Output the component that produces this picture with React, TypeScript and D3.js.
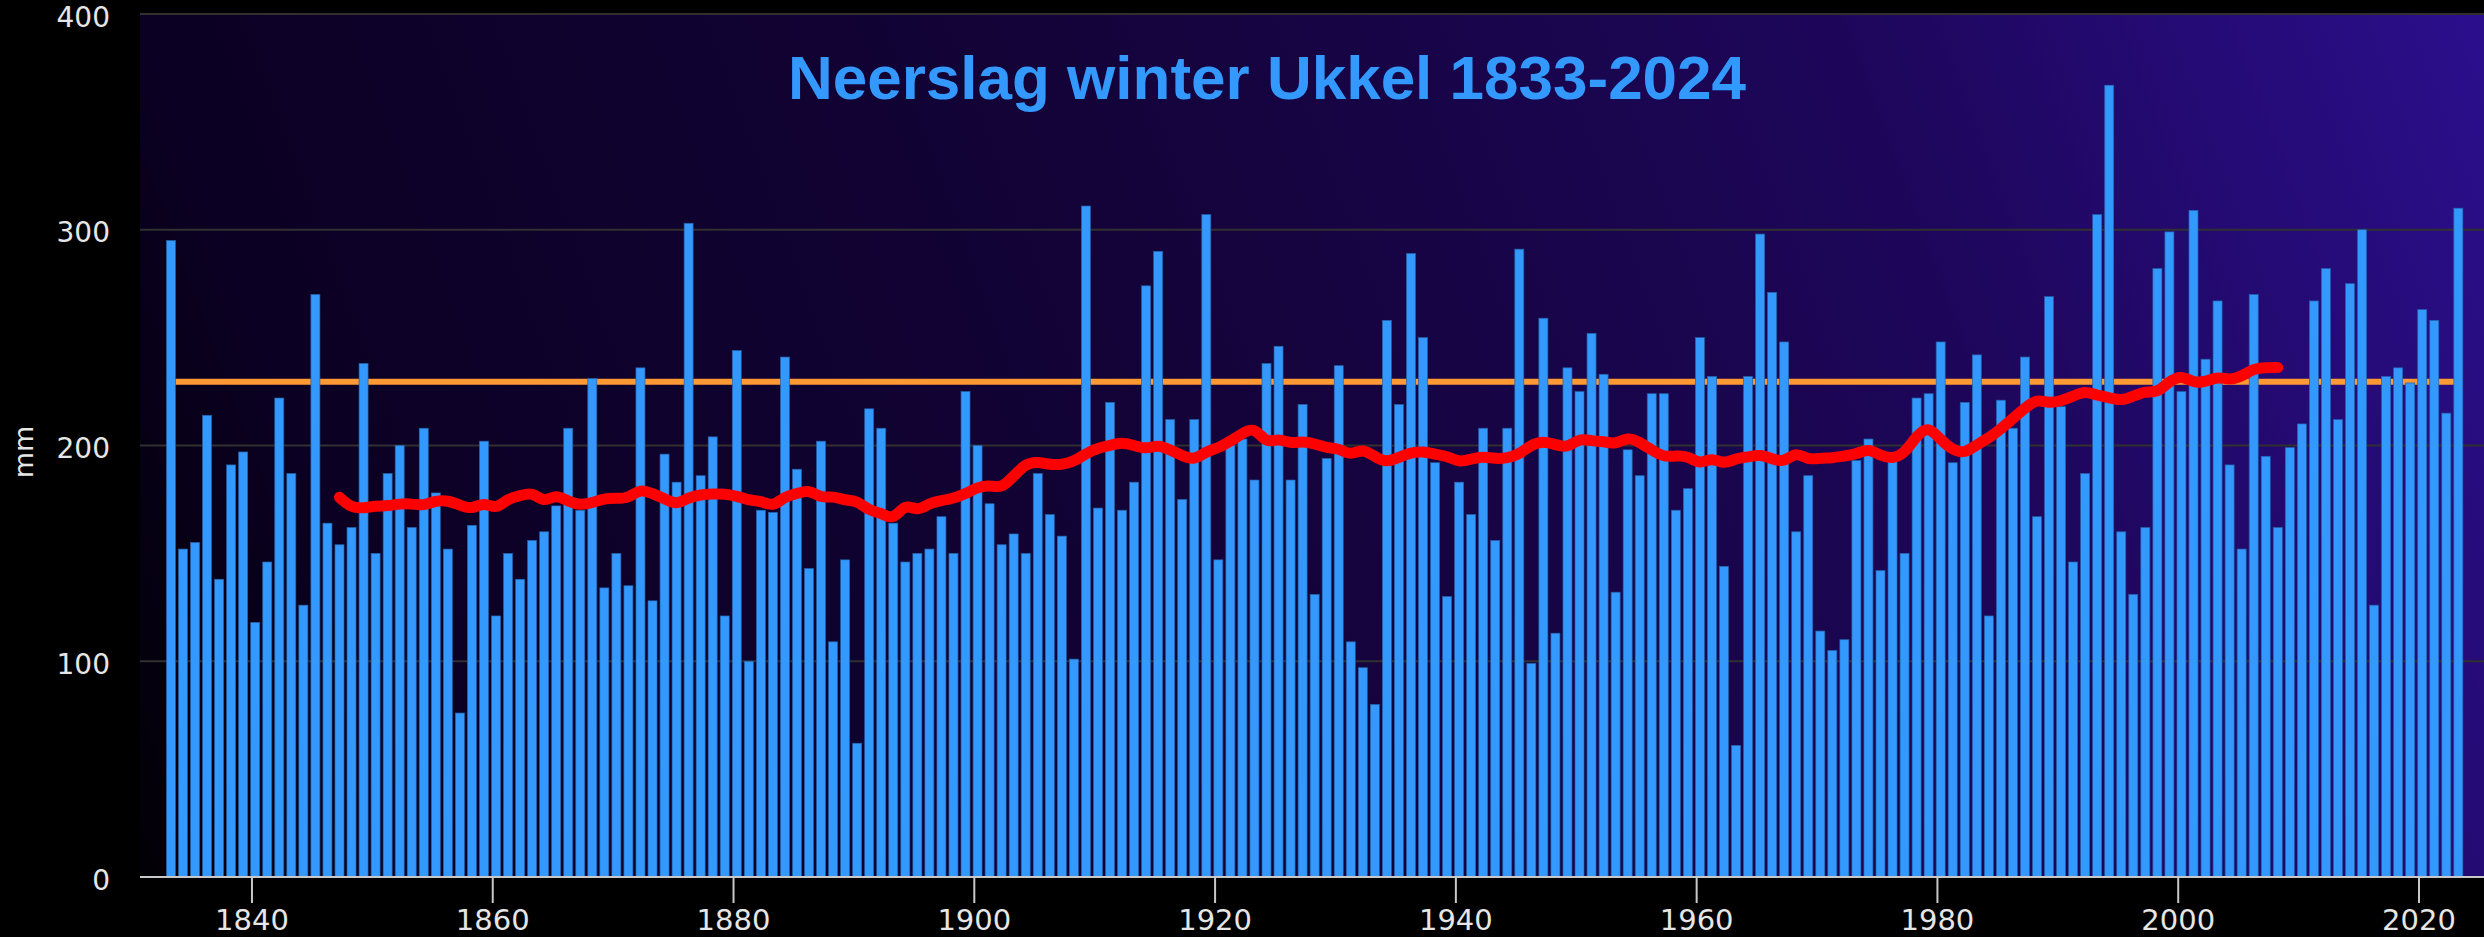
import React from 'react';
import * as d3 from 'd3';

// winter precipitation at Ukkel (mm), one value per year starting at 1833
const firstYear = 1833;
const winterRain = [
  295, 152, 155, 214, 138, 191, 197, 118, 146, 222,
  187, 126, 270, 164, 154, 162, 238, 150, 187, 200,
  162, 208, 178, 152, 76, 163, 202, 121, 150, 138,
  156, 160, 172, 208, 170, 231, 134, 150, 135, 236,
  128, 196, 183, 303, 186, 204, 121, 244, 100, 170,
  169, 241, 189, 143, 202, 109, 147, 62, 217, 208,
  164, 146, 150, 152, 167, 150, 225, 200, 173, 154,
  159, 150, 187, 168, 158, 101, 311, 171, 220, 170,
  183, 274, 290, 212, 175, 212, 307, 147, 200, 203,
  184, 238, 246, 184, 219, 131, 194, 237, 109, 97,
  80, 258, 219, 289, 250, 192, 130, 183, 168, 208,
  156, 208, 291, 99, 259, 113, 236, 225, 252, 233,
  132, 198, 186, 224, 224, 170, 180, 250, 232, 144,
  61, 232, 298, 271, 248, 160, 186, 114, 105, 110,
  193, 203, 142, 193, 150, 222, 224, 248, 192, 220,
  242, 121, 221, 208, 241, 167, 269, 218, 146, 187,
  307, 367, 160, 131, 162, 282, 299, 225, 309, 240,
  267, 191, 152, 270, 195, 162, 199, 210, 267, 282,
  212, 275, 300, 126, 232, 236, 229, 263, 258, 215,
  310,
];
const years = winterRain.map((_, i) => firstYear + i);

// 30-year running mean (red line), starting at 1847
const trendStart = 1847;
const trend30 = [
  176, 171, 171, 172, 172, 173, 173, 172, 174.5, 174.5,
  172.4, 170.3, 173.9, 170.3, 175.5, 176.6, 178.6, 173.4, 177.6, 173.9,
  172.4, 173.4, 175.5, 175.5, 175.5, 180, 177.6, 175.5, 172.4, 176,
  177.2, 177.6, 177.6, 176.6, 174.5, 174.5, 171.4, 176.6, 177.6, 179.7,
  175.5, 176.6, 174.5, 174.5, 169.7, 168.9, 165.1, 173.4, 169.3, 173.4,
  174.5, 175.5, 177.6, 180.7, 181.7, 180, 185.9, 191.7, 192.5, 191.1,
  191.1, 192.5, 196.3, 198.8, 200, 201.5, 200, 198.3, 200.4, 197.9,
  195.2, 193.2, 197.3, 198.8, 202, 205.6, 208.7, 200.8, 203.5, 200.8,
  202, 200.8, 198.8, 198.8, 195.2, 198.8, 194.6, 192.1, 194.6, 196.7,
  197.3, 195.9, 195.2, 192.1, 193.8, 195, 193.8, 194.2, 195.9, 200.4,
  202, 200.4, 198.8, 203.5, 202, 202, 200.4, 204.1, 201.5, 197.9,
  194.6, 195.2, 195.2, 191.1, 194.6, 191.1, 194.2, 194.6, 195.9, 193.8,
  192.1, 197.3, 193.2, 194.2, 194.2, 195.2, 195.9, 198.8, 195.2, 193.8,
  196.3, 204.6, 209.1, 202.5, 197.9, 196.3, 200.4, 203.5, 207.7, 212.5,
  217.4, 221.6, 219.5, 220.7, 222.8, 225.3, 223.2, 222.2, 220.7, 222.8,
  225.3, 224.3, 229.9, 232.6, 229, 229.5, 232, 230.3, 232, 235.7,
  236.1, 236.1,
];

const normalValue = 229.5; // orange reference line
const xTicks = [1840, 1860, 1880, 1900, 1920, 1940, 1960, 1980, 2000, 2020];
const yTicks = [0, 100, 200, 300, 400];
const title = 'Neerslag winter Ukkel 1833-2024';

const W = 2484;
const H = 937;

export default function App() {
  const x = d3.scaleLinear().domain([1830.7, 2025.4]).range([140, 2484]);
  const y = d3.scaleLinear().domain([0, 400]).range([877, 14]);
  const barX = (yr: number) => x(yr + 0.27);
  const barW = 9;

  const trendLine = d3
    .line<number>()
    .x((d, i) => barX(trendStart + i))
    .y((d) => y(d))
    .curve(d3.curveBasis);

  const [x0, x1] = x.range();
  const [y0, y1] = y.range();

  return (
    <svg
      width={W}
      height={H}
      style={{ position: 'absolute', left: 0, top: 0, display: 'block' }}
      fontFamily="'DejaVu Sans', sans-serif"
    >
      <defs>
        <linearGradient id="plotBg" gradientUnits="userSpaceOnUse" x1={x0} y1={y0} x2={x1} y2={y1}>
          <stop offset="0" stopColor="#020006" />
          <stop offset="0.12" stopColor="#0b0023" />
          <stop offset="0.45" stopColor="#130338" />
          <stop offset="0.75" stopColor="#1d0659" />
          <stop offset="1" stopColor="#2b0e8c" />
        </linearGradient>
      </defs>
      <rect width={W} height={H} fill="#000" />
      <rect x={x0} y={y1} width={x1 - x0} height={y0 - y1} fill="url(#plotBg)" />

      {yTicks.slice(1).map((t) => (
        <line key={t} x1={x0} x2={x1} y1={y(t)} y2={y(t)} stroke="#303030" strokeWidth={2} />
      ))}
      {yTicks.map((t) => (
        <text key={t} x={110} y={y(t)} dy="0.45em" textAnchor="end" fill="#e6e6e6" fontSize={28}>
          {t}
        </text>
      ))}
      <text
        transform={`translate(24, ${y(197)}) rotate(-90)`}
        textAnchor="middle"
        dy="0.35em"
        fill="#e6e6e6"
        fontSize={27}
      >
        mm
      </text>

      <line
        x1={x(firstYear)}
        x2={barX(years[years.length - 1])}
        y1={y(normalValue)}
        y2={y(normalValue)}
        stroke="#ff9933"
        strokeWidth={6}
      />

      {winterRain.map((v, i) => (
        <rect
          key={years[i]}
          x={barX(years[i]) - barW / 2}
          y={y(v)}
          width={barW}
          height={y(0) - y(v)}
          fill="#3399ff"
          stroke="#2462a8"
          strokeWidth={0.7}
        />
      ))}

      <path
        d={trendLine(trend30) || ''}
        fill="none"
        stroke="#ff0000"
        strokeWidth={11}
        strokeLinecap="round"
        strokeLinejoin="round"
      />

      <line x1={x0} x2={x1} y1={y0} y2={y0} stroke="#c8c8c8" strokeWidth={2} />
      {xTicks.map((t) => (
        <g key={t} transform={`translate(${x(t)},0)`}>
          <line y1={y0} y2={y0 + 26} stroke="#c8c8c8" strokeWidth={2} />
          <text y={930} textAnchor="middle" fill="#e6e6e6" fontSize={29}>
            {t}
          </text>
        </g>
      ))}

      <text
        x={1267}
        y={99}
        textAnchor="middle"
        fill="#3399ff"
        fontFamily="'Liberation Sans', Arial, sans-serif"
        fontWeight="bold"
        fontSize={62}
      >
        {title}
      </text>
    </svg>
  );
}
